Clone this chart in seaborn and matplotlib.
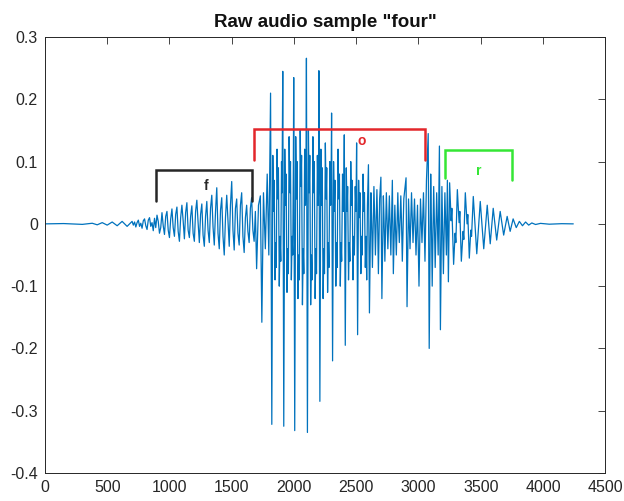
import matplotlib
matplotlib.use("Agg")
import matplotlib.pyplot as plt
import numpy as np
import pandas as pd
import seaborn as sns

# ---- waveform extrema (sample index, amplitude) ----
sample_idx = [
    0, 150, 300, 380, 420, 460, 500, 540, 580, 620, 660,
    700, 710, 720, 730, 740, 750, 760, 770, 780, 790,
    800, 810, 820, 830, 840, 850, 860, 870, 880, 890,
    900, 910, 920, 930, 940, 950, 960, 970, 980, 990,
    1000, 1010, 1020, 1030, 1040, 1050, 1060, 1070, 1080, 1090,
    1100, 1110, 1120, 1130, 1140, 1150, 1160, 1170, 1180, 1190,
    1200, 1210, 1220, 1230, 1240, 1250, 1260, 1270, 1280, 1290,
    1300, 1310, 1320, 1330, 1340, 1350, 1360, 1370, 1380, 1390,
    1400, 1410, 1420, 1430, 1440, 1450, 1460, 1470, 1480, 1490,
    1500, 1510, 1520, 1530, 1540, 1550, 1560, 1570, 1580, 1590,
    1600, 1610, 1620, 1630, 1640, 1650, 1660, 1670, 1680, 1690,
    1700, 1715, 1730, 1742, 1755, 1770, 1785, 1798,
    1812, 1822,
    1830, 1836, 1841, 1848, 1853, 1858, 1864, 1870, 1875, 1882, 1888, 1894, 1900, 1904,
    1910, 1918,
    1926, 1932, 1937, 1944, 1950, 1955, 1961, 1967, 1972, 1979, 1985, 1990, 1995,
    1998, 2006,
    2014, 2020, 2025, 2032, 2038, 2043, 2050, 2056, 2061, 2068, 2074, 2079, 2086, 2092, 2096,
    2100, 2108,
    2116, 2122, 2127, 2134, 2140, 2145, 2152, 2158, 2163, 2170, 2176, 2181, 2188, 2194, 2197,
    2200, 2208,
    2216, 2222, 2227, 2234, 2240, 2245, 2252, 2258, 2263, 2270, 2276, 2281, 2288, 2294, 2298,
    2302, 2310,
    2318, 2324, 2329, 2336, 2342, 2347, 2354, 2360, 2365, 2372, 2378, 2383, 2390, 2396, 2400,
    2404, 2412,
    2420, 2426, 2431, 2438, 2444, 2449, 2456, 2462, 2467, 2474, 2480, 2485, 2492, 2498,
    2503, 2511,
    2519, 2525, 2530, 2537, 2543, 2548, 2555, 2561, 2566, 2573, 2579, 2584, 2590,
    2598, 2606, 2618, 2624, 2630, 2642, 2648, 2654, 2666, 2672, 2678, 2688,
    2698, 2706, 2718, 2724, 2730, 2742, 2748, 2754, 2766, 2772, 2778,
    2790, 2798, 2810, 2816, 2822, 2834, 2840, 2846, 2858, 2864, 2870, 2882,
    2900, 2908, 2920, 2932, 2944, 2956, 2968, 2980, 2992, 3004, 3016, 3028, 3040, 3052, 3064,
    3078, 3086, 3098, 3104, 3110, 3122, 3128, 3134, 3146, 3158,
    3168, 3176, 3188, 3200, 3212, 3224, 3232, 3240,
    3250, 3262, 3268, 3282, 3294, 3300,
    3312, 3326, 3332, 3344, 3358, 3364,
    3376, 3390, 3396, 3408, 3420, 3426,
    3440, 3468, 3496, 3524, 3552, 3576, 3600, 3628, 3656, 3684, 3712, 3736, 3760, 3785,
    3810, 3835, 3860, 3885, 3910, 3940, 3980, 4050, 4150, 4243,
]
amplitude = [
    0.0, 0.0005, -0.0008, 0.001, -0.0015, 0.002, -0.002, 0.003, -0.003, 0.004, -0.004,
    0.004, -0.002, 0.003, -0.005, 0.002, 0.006, -0.004, 0.001, -0.007, 0.005,
    0.008, -0.003, -0.009, 0.006, 0.010, -0.004, 0.002, -0.011, 0.009, -0.006,
    0.014, 0.004, -0.015, -0.006, 0.018, -0.003, -0.017, 0.012, 0.020, -0.010,
    -0.022, 0.008, 0.024, -0.006, -0.020, 0.015, 0.027, -0.012, -0.028, 0.010,
    0.030, 0.005, -0.024, 0.018, 0.034, -0.010, -0.022, 0.012, 0.029, -0.015,
    -0.028, 0.020, 0.038, 0.002, -0.030, 0.015, 0.032, -0.018, -0.036, 0.012,
    0.036, -0.010, -0.030, 0.025, 0.046, -0.005, -0.034, 0.020, 0.058, -0.015,
    -0.040, 0.022, 0.042, -0.020, -0.050, 0.010, 0.046, 0.005, -0.036, 0.030,
    0.068, -0.010, -0.042, 0.025, 0.040, -0.015, -0.034, 0.030, 0.050, -0.020,
    -0.046, 0.010, 0.030, -0.012, -0.030, 0.025, 0.042, -0.010, -0.028, 0.020,
    -0.072, 0.030, 0.045, -0.158, 0.050, -0.040, 0.080, -0.050,
    0.210, -0.322,
    0.110, 0.020, 0.070, -0.090, -0.030, -0.070, 0.120, 0.040, 0.090, -0.100, -0.020, -0.060, 0.100, 0.050,
    0.245, -0.325,
    0.120, 0.030, 0.080, -0.110, -0.040, -0.080, 0.140, 0.050, 0.100, -0.090, -0.020, -0.050, 0.090,
    0.235, -0.332,
    0.140, 0.040, 0.100, -0.120, -0.050, -0.090, 0.150, 0.060, 0.110, -0.130, -0.040, -0.080, 0.120, 0.030, 0.060,
    0.266, -0.335,
    0.150, 0.050, 0.110, -0.130, -0.050, -0.090, 0.140, 0.050, 0.100, -0.120, -0.040, -0.080, 0.110, 0.030, 0.050,
    0.246, -0.285,
    0.120, 0.030, 0.090, -0.120, -0.040, -0.080, 0.130, 0.040, 0.090, -0.110, -0.030, -0.070, 0.100, 0.030, 0.060,
    0.178, -0.220,
    0.100, 0.020, 0.070, -0.100, -0.030, -0.070, 0.120, 0.040, 0.080, -0.100, -0.030, -0.060, 0.080, 0.020, 0.050,
    0.143, -0.195,
    0.090, 0.020, 0.060, -0.090, -0.030, -0.060, 0.100, 0.030, 0.070, -0.090, -0.020, -0.050, 0.060, 0.020,
    0.130, -0.178,
    0.070, 0.010, 0.050, -0.080, -0.020, -0.050, 0.080, 0.020, 0.050, -0.070, -0.020, -0.090, 0.030,
    0.095, -0.143, 0.050, 0.000, -0.070, 0.060, 0.010, -0.050, 0.055, 0.000, -0.080, 0.040,
    0.075, -0.120, 0.045, 0.000, -0.060, 0.050, 0.005, -0.040, 0.045, -0.005, -0.050,
    0.070, -0.080, 0.030, -0.010, -0.050, 0.050, 0.000, -0.030, 0.045, 0.000, -0.060, 0.040,
    0.074, -0.133, 0.040, -0.040, 0.050, -0.030, 0.040, -0.050, 0.030, -0.100, 0.040, -0.030, 0.050, -0.060, 0.070,
    0.145, -0.200, 0.080, 0.000, -0.100, 0.060, 0.000, -0.070, 0.050, -0.050,
    0.125, -0.170, 0.060, -0.080, 0.050, -0.050, 0.070, -0.093,
    0.066, 0.005, 0.025, -0.065, -0.015, -0.030,
    0.055, 0.002, 0.020, -0.060, -0.012, -0.025,
    0.050, 0.000, 0.015, -0.055, -0.010, -0.020,
    0.044, -0.048, 0.036, -0.040, 0.030, -0.032, 0.025, -0.026, 0.020, -0.018, 0.012, -0.012, 0.008, -0.006,
    0.004, -0.003, 0.003, -0.002, 0.0015, -0.001, 0.0008, -0.0005, 0.0003, 0.0,
]

# ---- phoneme brackets ----
bracket_labels = ["f", "o", "r"]
bracket_left = [890, 1680, 3214]
bracket_right = [1665, 3054, 3750]
bracket_top = [0.087, 0.153, 0.119]
bracket_left_bottom = [0.037, 0.103, 0.074]
bracket_right_bottom = [0.037, 0.103, 0.071]
label_x = [1294, 2547, 3480]
label_y = [0.061, 0.133, 0.085]
bracket_colors = ["#262626", "#E3262B", "#35E635"]

x_ticks = [0, 500, 1000, 1500, 2000, 2500, 3000, 3500, 4000, 4500]
y_ticks = [-0.4, -0.3, -0.2, -0.1, 0.0, 0.1, 0.2, 0.3]
y_tick_labels = ["-0.4", "-0.3", "-0.2", "-0.1", "0", "0.1", "0.2", "0.3"]

sns.set_theme(style="white")
plt.rcParams["font.family"] = ["Liberation Sans", "DejaVu Sans"]
plt.rcParams["axes.unicode_minus"] = False

fig = plt.figure(figsize=(6.24, 5.01), dpi=100)
ax = fig.add_axes([0.072, 0.056, 0.898, 0.870])

df = pd.DataFrame({"sample": sample_idx, "amplitude": amplitude})
sns.lineplot(data=df, x="sample", y="amplitude", ax=ax, color="#0072BD",
             linewidth=0.9, sort=False, estimator=None)

for lab, xl, xr, yt, ylb, yrb, lx, ly, c in zip(bracket_labels, bracket_left, bracket_right,
                                                bracket_top, bracket_left_bottom,
                                                bracket_right_bottom, label_x, label_y,
                                                bracket_colors):
    ax.plot([xl, xl, xr, xr], [ylb, yt, yt, yrb], color=c, linewidth=1.8,
            solid_joinstyle="miter")
    ax.text(lx, ly, lab, color=c, fontsize=10, fontweight="bold",
            ha="center", va="center")

ax.set_xlim(0, 4500)
ax.set_ylim(-0.4, 0.3)
ax.set_xticks(x_ticks)
ax.set_xticklabels([str(v) for v in x_ticks])
ax.set_yticks(y_ticks)
ax.set_yticklabels(y_tick_labels)
ax.set_xlabel("")
ax.set_ylabel("")
ax.tick_params(direction="in", top=True, right=True, length=5, width=0.6,
               colors="#262626", labelsize=11.5, pad=5)
for s in ax.spines.values():
    s.set_visible(True)
    s.set_color("#262626")
    s.set_linewidth(0.7)
ax.set_title('Raw audio sample "four"', fontsize=13.5, fontweight="bold",
             color="#111111", pad=7)

fig.savefig("out.png", dpi=100, facecolor="white")
